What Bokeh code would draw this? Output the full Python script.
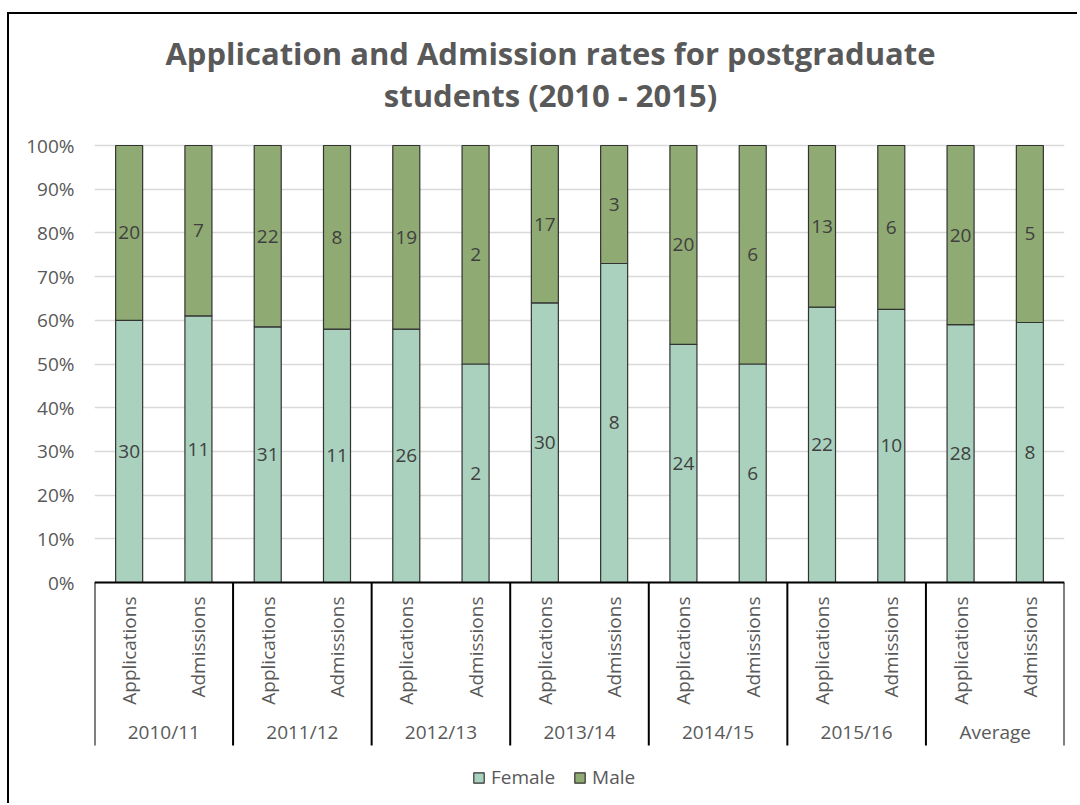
import numpy as np
from bokeh.plotting import figure
from bokeh.models import (ColumnDataSource, FixedTicker, NumeralTickFormatter, Range1d,
                          Legend, LegendItem)
from bokeh.core.properties import value
from bokeh.embed import file_html
from bokeh.resources import INLINE

# ---------------- data ----------------
years = ["2010/11", "2011/12", "2012/13", "2013/14", "2014/15", "2015/16", "Average"]
kinds = ["Applications", "Admissions"]
female_counts = [30, 11, 31, 11, 26, 2, 30, 8, 24, 6, 22, 10, 28, 8]
male_counts = [20, 7, 22, 8, 19, 2, 17, 3, 20, 6, 13, 6, 20, 5]
female_share = [0.60, 0.61, 0.585, 0.58, 0.58, 0.50, 0.64, 0.73, 0.545, 0.50, 0.63, 0.625, 0.59, 0.595]
y_ticks = [0.0, 0.1, 0.2, 0.3, 0.4, 0.5, 0.6, 0.7, 0.8, 0.9, 1.0]
title_lines = ["Application and Admission rates for postgraduate", "students (2010 - 2015)"]
series_names = ["Female", "Male"]
series_colors = ["#A9D1BE", "#8FAA72"]

# ---------------- layout constants ----------------
FONT = "Open Sans"
GREY = "#595959"
PX_PER_UNIT = 437.0
ZERO_PX = 582.0
Y_BOTTOM = -(800 - ZERO_PX) / PX_PER_UNIT   # frame extends down to hold category labels/legend
Y_TOP = 1 + (145 - 20) / PX_PER_UNIT        # and up to hold the title
AXIS_BOTTOM = -(745 - ZERO_PX) / PX_PER_UNIT

n = len(years) * len(kinds)
x_pos = [i + 0.5 for i in range(n)]
male_share = [1 - f for f in female_share]
src = ColumnDataSource(dict(
    x=x_pos,
    female=female_share,
    male=male_share,
    f_label=[str(v) for v in female_counts],
    m_label=[str(v) for v in male_counts],
    f_y=[f / 2 for f in female_share],
    m_y=[f + (1 - f) / 2 for f in female_share],
    kind=[kinds[i % 2] for i in range(n)],
))

p = figure(width=1070, height=791, x_range=Range1d(0, n), y_range=Range1d(Y_BOTTOM, Y_TOP),
           x_axis_type=None, output_backend="svg", toolbar_location=None,
           min_border_left=85, min_border_right=15, min_border_top=6, min_border_bottom=5)
p.title.text = ""
p.outline_line_color = None
p.background_fill_color = "white"
p.border_fill_color = "white"
p.styles = {"border-left": "2px solid black", "border-top": "2px solid black",
            "margin-top": "12px", "margin-left": "7px"}

# y axis
yax = p.yaxis[0]
yax.ticker = FixedTicker(ticks=y_ticks)
yax.formatter = NumeralTickFormatter(format="0%")
yax.axis_line_color = None
yax.major_tick_line_color = None
yax.minor_tick_line_color = None
yax.major_tick_out = 0
yax.major_label_standoff = 20
yax.major_label_text_font = FONT
yax.major_label_text_font_size = "19px"
yax.major_label_text_color = GREY
p.ygrid.ticker = FixedTicker(ticks=y_ticks)
p.ygrid.grid_line_color = "#D9D9D9"
p.ygrid.grid_line_width = 1.5
p.xgrid.grid_line_color = None

# stacked bars
rs = p.vbar_stack(["female", "male"], x="x", width=0.39, source=src,
                  fill_color=series_colors, line_color="#333333", line_width=1.2)

# data labels
p.text(x="x", y="f_y", text="f_label", source=src, text_align="center", text_baseline="middle",
       text_font=value(FONT), text_font_size=value("19px"), text_color="#404040")
p.text(x="x", y="m_y", text="m_label", source=src, text_align="center", text_baseline="middle",
       text_font=value(FONT), text_font_size=value("19px"), text_color="#404040")

# category axis (two levels) drawn inside the extended frame
p.segment(x0=[0], y0=[0], x1=[n], y1=[0], line_color="black", line_width=2)
sep_x = [float(2 * i) for i in range(len(years) + 1)]
p.segment(x0=sep_x, y0=[0] * len(sep_x), x1=sep_x, y1=[AXIS_BOTTOM] * len(sep_x),
          line_color="black", line_width=2)
p.text(x="x", y=-14 / PX_PER_UNIT, text="kind", source=src, angle=np.pi / 2,
       text_align="right", text_baseline="middle",
       text_font=value(FONT), text_font_size=value("19px"), text_color=GREY)
grp_src = ColumnDataSource(dict(x=[2 * i + 1.0 for i in range(len(years))], t=years))
p.text(x="x", y=-(731 - ZERO_PX) / PX_PER_UNIT, text="t", source=grp_src,
       text_align="center", text_baseline="middle",
       text_font=value(FONT), text_font_size=value("19px"), text_color=GREY)

# title (two lines centred near x=551px, text middles at ~52px and ~94px)
title_x = (551 - 95) / (970 / n)
title_src = ColumnDataSource(dict(
    x=[title_x, title_x],
    y=[(ZERO_PX - 52) / PX_PER_UNIT, (ZERO_PX - 94) / PX_PER_UNIT],
    t=title_lines))
p.text(x="x", y="y", text="t", source=title_src, text_align="center", text_baseline="middle",
       text_font=value(FONT), text_font_size=value("31px"), text_font_style="bold",
       text_color=GREY)

# legend
legend = Legend(items=[LegendItem(label=series_names[i], renderers=[rs[i]]) for i in range(2)],
                orientation="horizontal", location=(378, 10),
                glyph_width=13, glyph_height=13, label_standoff=6, spacing=18,
                label_text_font=FONT, label_text_font_size="19px", label_text_color=GREY,
                border_line_color=None, background_fill_alpha=0, padding=0, margin=0)
p.add_layout(legend, "center")

open("out.html", "w").write(file_html(p, INLINE))
